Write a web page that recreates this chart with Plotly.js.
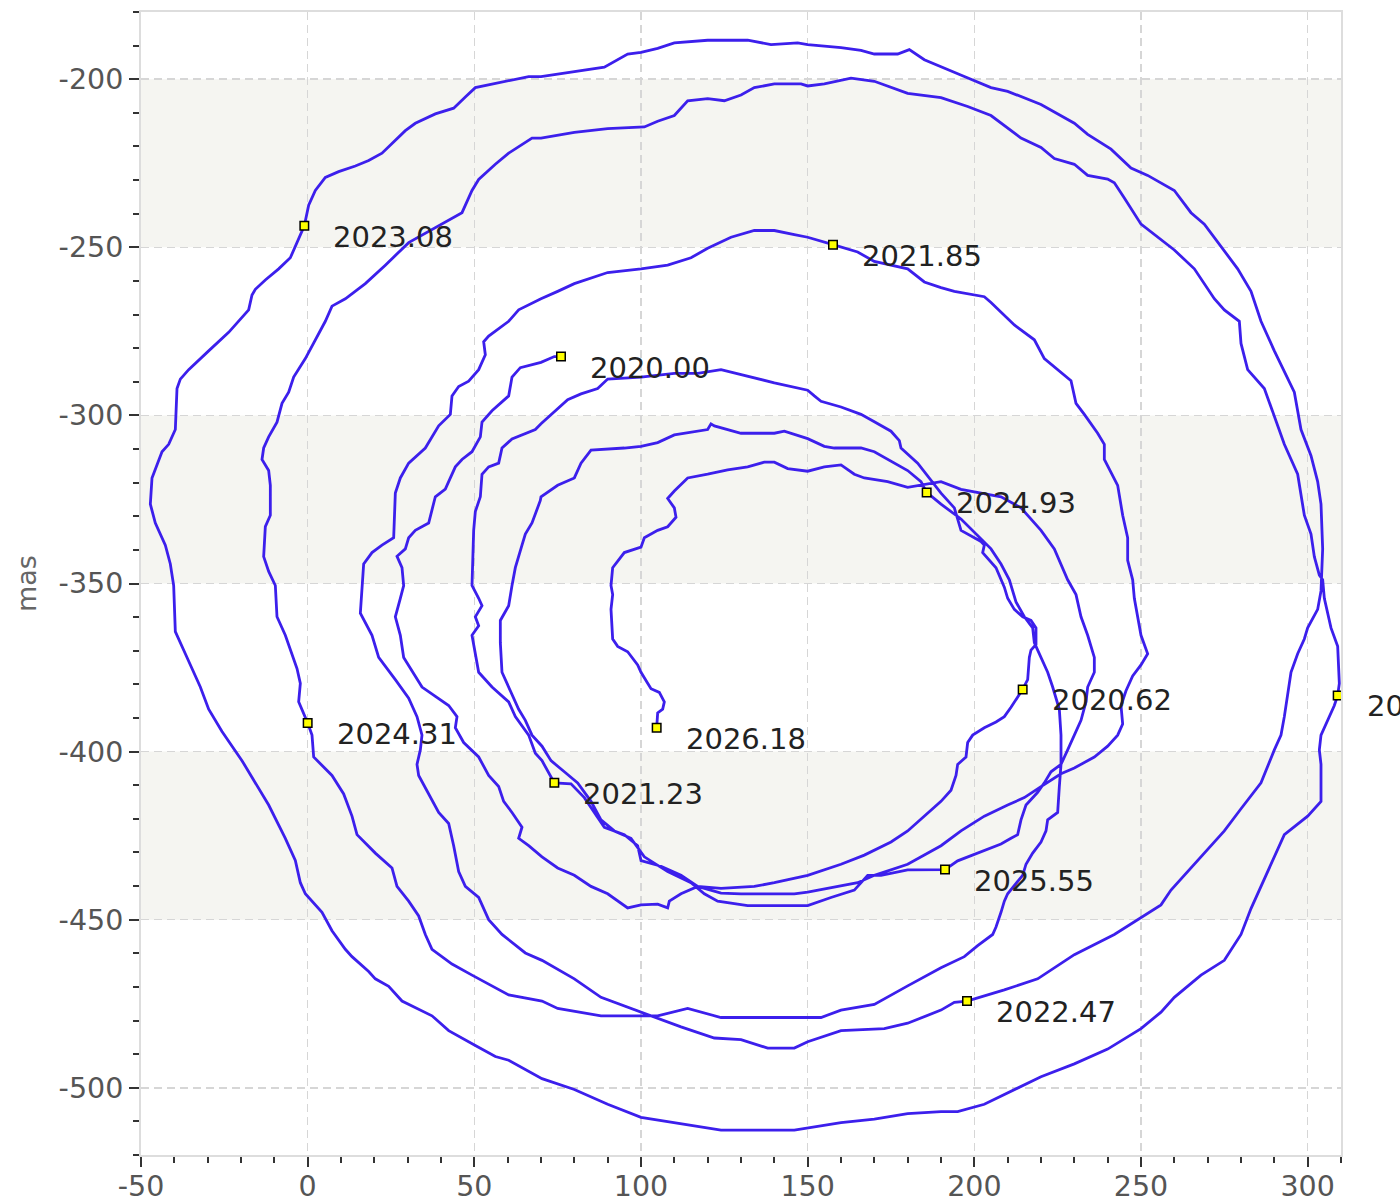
<!DOCTYPE html>
<html>
<head>
<meta charset="utf-8">
<script src="https://cdn.plot.ly/plotly-3.0.1.min.js"></script>
<style>
  html, body { margin: 0; padding: 0; background: #ffffff; }
  #chart { width: 1400px; height: 1204px; }
</style>
</head>
<body>
<div id="chart"></div>
<script>
// ---- Data (x, y in mas) ----
const loop1 = [[76.0,-282.5],[74.0,-282.5],[70.0,-284.2],[63.8,-285.8],[61.3,-288.6],[60.3,-294.2],[55.3,-298.6],[52.3,-302.0],[51.8,-306.4],[49.3,-310.8],[46.3,-313.1],[44.3,-315.3],[42.3,-319.7],[41.3,-321.9],[38.3,-324.2],[37.3,-328.6],[36.3,-332.0],[32.3,-334.2],[30.3,-336.4],[29.3,-339.7],[26.8,-341.9],[28.3,-345.3],[28.8,-350.6],[27.8,-354.4],[26.3,-359.9],[27.8,-365.4],[28.8,-372.0],[34.3,-380.8],[39.3,-384.1],[42.3,-386.3],[44.8,-389.6],[44.3,-392.9],[46.8,-397.3],[51.3,-401.6],[54.3,-407.1],[57.3,-410.4],[58.8,-414.8],[61.3,-418.1],[64.3,-422.5],[63.3,-425.8],[66.3,-428.0],[70.3,-431.3],[75,-434.6],[80,-436.8],[85,-440.1],[90,-442.3],[96,-446.5],[100,-445.6],[105,-445.4],[108,-446.5],[108.5,-444.5],[112,-442.3],[117,-440.1],[124,-440.7],[134,-440.1],[140,-439.0],[150,-436.8],[160,-433.5],[167,-430.8],[175,-426.9],[180,-423.6],[185,-419.2],[190,-414.8],[193,-411.5],[194.5,-407.1],[195,-403.8],[197.5,-401.6],[198,-397.3],[199.5,-395.1],[203,-392.9],[206.5,-391.2],[209,-389.6],[211,-386.8],[214.5,-381.5],[216,-378.6],[216.5,-372.0],[217,-369.8],[218.5,-368.1],[218.5,-363.2],[217,-361.0],[214.5,-359.9],[212,-357.7],[210,-354.4],[209,-351.1],[208,-348.9],[206.5,-345.3],[202.5,-340.8],[203,-338.6],[202,-337.5],[196,-334.2],[194,-327.5],[190,-323.1],[183,-314.2],[178,-309.7],[177.5,-307.5],[175,-304.7],[170,-301.9],[166,-299.7],[160,-297.5],[154,-295.8],[152,-294.2],[150,-292.5],[140,-290.3],[134,-288.8]];

const loop2 = [[127,-287.0],[124,-286.4],[117,-287.5],[110,-287.5],[100,-288.6],[90,-289.2],[87,-292.0],[82,-293.6],[78,-295.3],[73,-299.7],[70,-302.5],[68.3,-304.2],[61.3,-307.0],[58.3,-309.7],[57.3,-314.2],[54.3,-315.3],[52.3,-317.5],[51.8,-324.2],[50.3,-328.6],[49.8,-334.2],[49.3,-350.6],[51.3,-354.4],[52.3,-356.6],[50.3,-359.9],[51.3,-362.6],[49.3,-365.4],[51.3,-376.4],[55.3,-380.8],[60.3,-385.2],[62.3,-389.6],[66.3,-395.1],[68.3,-400.5],[70.3,-402.7],[74,-409.3],[79,-409.6],[83,-413.7],[86,-418.1],[89,-422.5],[95,-424.7],[99,-428.0],[100,-432.4],[106,-434.1],[112,-436.8],[117,-440.1],[124,-442.1],[130,-442.3],[146,-442.3],[150,-441.8],[165,-439.0],[170,-436.8],[180,-433.5],[190,-428.0],[196,-423.6],[203,-419.2],[210,-415.9],[215,-413.7],[220,-410.4],[226,-406.6],[230,-404.9],[236,-401.6],[240,-398.4],[243,-395.1],[244.5,-391.8],[244,-386.3],[245.5,-381.9],[247.5,-377.5],[250,-374.2],[252,-370.9],[250,-365.4],[248,-354.4],[247.5,-348.9],[246,-343.1],[246,-336.4],[244.5,-329.7],[243,-320.8],[239,-313.1],[239,-308.6],[237,-305.3],[233,-299.7],[230.5,-296.4],[229,-289.7],[221,-283.1],[218,-277.5],[212,-273.1],[205,-266.4],[203,-264.7],[194,-263.1],[190,-262.0],[185,-260.3],[180,-256.4],[170,-254.2],[165,-251.4],[157.6,-249.2],[150,-247.0],[146,-246.2],[140,-245.0],[134,-245.0]];

const loop3 = [[127,-247.0],[120,-250.3],[115,-253.1],[108,-255.3],[100,-256.4],[90,-257.5],[80,-260.8],[75,-263.1],[70,-265.3],[63.3,-268.6],[60.3,-272.0],[54.3,-276.4],[52.8,-278.1],[53.3,-282.0],[51.3,-286.4],[48.3,-289.8],[45.3,-291.4],[43.3,-294.2],[42.8,-299.7],[39.3,-303.1],[36.8,-307.5],[35.3,-309.7],[30.3,-314.2],[27.8,-318.6],[26.3,-323.1],[25.8,-336.4],[22.3,-338.6],[19.3,-340.8],[16.8,-344.2],[16.3,-350.6],[15.8,-358.8],[19.3,-365.4],[21.3,-372.0],[26.3,-378.6],[30.3,-384.1],[32.8,-389.6],[34.3,-395.1],[33.8,-399.5],[32.8,-403.8],[33.3,-407.1],[36.3,-412.6],[39.3,-418.1],[42.3,-421.4],[43.8,-428.0],[45.3,-435.7],[47.3,-440.1],[51.3,-443.4],[54.3,-450.0],[58.3,-454.4],[65.3,-459.9],[70.3,-462.1],[80,-467.6],[88,-473.1],[100,-477.5],[112,-481.9],[122,-485.2],[130,-485.7],[138,-488.2],[146,-488.2],[150,-486.3],[160,-483.0],[173,-482.4],[180,-480.8],[190,-476.9],[194,-474.6],[197.8,-474.2],[209,-470.9],[219,-467.6],[230,-460.4],[242,-454.4],[250,-449.5],[256,-445.6],[259,-441.2],[265,-434.6],[270,-429.1],[275,-423.6],[280,-417.0],[286,-409.3],[290,-399.5],[292,-395.1],[293,-389.6],[295,-376.4],[297,-370.9],[299,-366.5],[300,-363.2],[303,-357.7],[304,-352.2],[304.5,-339.7],[304,-326.4],[303,-319.7],[301,-312.0],[298,-304.2],[296,-293.1],[290,-280.8],[286,-272.0],[283,-263.1],[279,-256.4],[273,-248.6],[269,-243.1],[265,-239.7],[260,-233.1],[252,-228.6],[247,-226.4],[241,-220.8],[234,-216.4],[230,-213.1],[220,-207.5],[210,-203.6],[205,-202.5],[197,-199.2],[190,-196.2],[185,-194.2],[180.5,-191.2],[177,-192.5],[170,-192.5],[166,-191.4],[160,-190.6],[150,-189.7],[147,-189.2],[139,-189.7],[132,-188.4]];

const loop4 = [[120,-188.4],[110,-189.2],[105,-190.8],[100,-192.0],[96,-192.5],[89,-196.4],[85,-197.0],[70,-199.2],[66.3,-199.2],[50.3,-202.5],[47.3,-205.3],[43.8,-208.6],[38.3,-210.3],[32.3,-213.1],[29.3,-215.3],[22.3,-222.0],[18.3,-224.2],[14.3,-225.8],[9.3,-227.5],[5.3,-229.2],[2.3,-233.1],[0.3,-237.5],[-1.0,-243.6],[-2.7,-247.5],[-5.2,-253.1],[-8.7,-256.4],[-12.7,-259.7],[-15.7,-262.5],[-16.7,-264.2],[-17.7,-268.6],[-23.7,-275.3],[-29.7,-280.8],[-35.7,-286.4],[-38.2,-289.2],[-39.2,-292.0],[-39.7,-304.2],[-41.7,-308.6],[-43.7,-310.8],[-46.7,-318.6],[-47.2,-326.4],[-45.7,-332.0],[-42.7,-338.6],[-41.2,-344.2],[-40.2,-350.6],[-39.7,-364.3],[-36.7,-370.9],[-32.2,-380.8],[-29.7,-387.4],[-25.7,-394.0],[-19.7,-402.7],[-13.7,-412.6],[-11.7,-415.9],[-6.7,-425.8],[-3.7,-432.4],[-2.2,-439.0],[-0.7,-442.3],[4.3,-447.8],[7.3,-453.3],[11.3,-458.8],[13.3,-461.0],[18.3,-465.4],[20.3,-467.6],[24.3,-469.8],[28.3,-474.2],[37.3,-478.6],[42.3,-483.0],[50.3,-487.4],[56.3,-490.7],[60.3,-491.8],[70.3,-497.3],[80,-500.5],[90,-504.9],[100,-508.8],[110,-510.4],[124,-512.6],[146,-512.6],[160,-510.4],[170,-509.3],[180,-507.7],[190,-507.1],[195,-507.1],[203,-504.9],[210,-501.6],[220,-496.7],[230,-492.9],[240,-488.5],[250,-482.4],[256,-477.5],[260,-473.1],[268,-466.5],[275,-462.1],[280,-454.4],[283,-446.7],[287,-437.9],[290,-431.3],[293,-424.7],[300,-419.2],[304,-414.8],[304,-403.8],[303.5,-399.5],[304,-395.1],[306,-390.7],[308,-386.3],[309,-383.3],[309.5,-379.7],[309,-368.7],[307,-363.2],[305,-354.4],[304.5,-348.9],[303.5,-347.5],[302,-342.0],[301,-335.3],[299,-329.7],[297,-317.5],[293,-308.6],[289,-297.5],[287,-292.0],[282,-286.4],[280,-278.6],[279.5,-272.0],[275,-268.6],[272,-265.3],[269,-260.8],[266,-256.4],[260,-250.8],[250,-243.1],[245,-235.3],[242,-230.8],[240,-229.7],[234,-228.6],[230,-225.3],[224,-223.6],[220,-220.3],[214,-217.5],[205,-210.8],[198,-208.1],[190,-205.5],[180,-204.2],[170,-200.6],[163,-199.7],[155,-201.4],[150,-202.0],[148,-201.4],[140,-201.4],[134,-202.5],[130,-204.7]];

const loop5 = [[125,-206.4],[120,-205.8],[114,-206.4],[110,-210.8],[105,-212.5],[101,-214.2],[90,-214.7],[80,-215.8],[70,-217.5],[67.3,-217.5],[60.3,-222.0],[56.3,-225.3],[51.3,-229.8],[49.3,-233.1],[46.3,-239.7],[40.3,-243.1],[30.3,-248.6],[23.3,-255.3],[17.3,-260.8],[11.3,-265.3],[7.3,-267.5],[5.3,-272.0],[2.3,-277.5],[-0.7,-283.1],[-4.2,-288.6],[-5.7,-293.1],[-7.7,-296.4],[-9.2,-302.0],[-11.7,-306.4],[-13.2,-309.7],[-13.7,-313.1],[-11.7,-316.4],[-11.2,-320.8],[-11.2,-329.7],[-12.7,-333.1],[-13.2,-342.0],[-11.7,-346.4],[-9.7,-350.6],[-9.2,-359.9],[-6.7,-365.4],[-3.2,-375.3],[-2.2,-379.7],[-2.7,-385.2],[0.0,-391.5],[1.3,-395.1],[1.8,-401.6],[7.3,-407.1],[10.8,-412.6],[13.3,-419.2],[14.8,-424.7],[20.3,-430.2],[25.3,-434.6],[26.8,-440.1],[30.3,-444.5],[33.3,-448.9],[35.3,-454.4],[37.3,-458.8],[43.3,-463.2],[49.3,-466.5],[55.3,-469.8],[60.3,-472.4],[70.3,-474.2],[75,-476.4],[88,-478.6],[99,-478.6],[105,-478.6],[114,-476.4],[124,-479.1],[132,-479.1],[146,-479.1],[154,-479.1],[160,-476.9],[170,-475.2],[180,-469.7],[190,-464.3],[197,-461.0],[201,-457.7],[205.5,-454.4],[206.5,-452.2],[208,-447.8],[209,-444.5],[210,-442.3],[214.5,-436.8],[215.5,-433.5],[217.5,-430.2],[220,-426.9],[221.5,-423.6],[222,-420.3],[225,-418.1],[225.5,-410.4],[226,-403.8],[226,-395.1],[225.5,-387.4],[223.5,-380.8],[222,-376.4],[219,-369.8],[218,-367.6],[217.5,-363.2],[215,-359.9],[212.5,-355.5],[210.5,-348.9],[208,-344.2],[205,-339.7],[196,-330.8],[193,-328.6],[190,-326.4],[185.7,-322.9],[184,-319.7],[180,-316.4],[170,-310.8],[166,-309.7],[158,-309.7],[155,-309.2],[150,-306.9],[143,-304.7],[140,-305.3],[130,-305.3]];

const loop6 = [[122,-303.1],[121,-302.5],[120,-304.2],[110,-305.8],[105,-308.1],[100,-309.2],[95,-309.7],[85,-310.3],[82,-314.2],[80,-318.6],[75,-320.8],[70,-324.2],[69.8,-325.3],[67.3,-332.0],[65.3,-335.3],[64.3,-338.6],[62.3,-345.3],[61.3,-350.6],[60.3,-356.6],[57.8,-361.0],[57.8,-367.6],[58.3,-376.4],[61.3,-383.0],[63.3,-387.4],[65.3,-390.7],[67.3,-395.1],[70.3,-398.4],[73,-402.7],[77,-406.0],[81,-409.3],[85,-414.8],[88,-420.3],[92,-423.6],[97,-425.8],[101,-431.3],[108,-435.7],[115,-439.0],[119,-442.3],[123,-444.5],[132,-445.8],[140,-445.8],[150,-445.8],[157,-443.4],[164,-441.2],[168,-436.8],[172,-436.8],[180,-435.2],[191.2,-435.1],[195,-432.5],[201,-430.2],[208,-427.5],[211,-425.8],[213,-424.7],[214,-420.3],[215.5,-415.9],[219,-412.1],[221,-409.3],[223,-406.0],[226,-403.8],[228,-399.5],[230,-395.1],[232,-390.7],[233.5,-385.2],[234,-380.8],[236,-376.4],[236,-372.0],[234,-365.4],[232,-359.9],[230.5,-353.3],[228,-348.9],[224,-339.7],[220,-334.2],[214,-327.5],[208,-324.2],[196,-322.0],[190,-319.7],[180,-321.4],[174,-319.7],[167,-318.6],[164,-317.5],[160,-314.7],[155,-315.3],[150,-316.6],[144,-315.8],[140,-313.9],[137,-313.9],[132,-315.3]];

const tail7 = [[126,-316.2],[120,-317.5],[114,-318.6],[110,-322.5],[108,-324.7],[110,-327.5],[110.5,-330.3],[108,-333.1],[105,-334.2],[101,-336.4],[100,-339.2],[95,-340.8],[91.5,-345.3],[91,-350.6],[91.5,-353.3],[91,-357.7],[91.5,-366.5],[93,-368.7],[96,-370.3],[99,-374.2],[100,-376.4],[102,-379.7],[103,-381.3],[105.5,-382.4],[107,-385.2],[106.5,-387.4],[105,-388.5],[104.7,-392.9]];

const markerDates = ['2020.00','2020.62','2021.23','2021.85','2022.47','2023.08','2023.70','2024.31','2024.93','2025.55','2026.18'];
const markerX = [76.0, 214.5, 74.0, 157.6, 197.8, -1.0, 309.0, 0.0, 185.7, 191.2, 104.7];
const markerY = [-282.5, -381.5, -409.3, -249.2, -474.2, -243.6, -383.3, -391.5, -322.9, -435.1, -392.9];

const xTickVals = [-50, 0, 50, 100, 150, 200, 250, 300];
const xTickText = ['-50', '0', '50', '100', '150', '200', '250', '300'];
const yTickVals = [-500, -450, -400, -350, -300, -250, -200];
const yTickText = ['-500', '-450', '-400', '-350', '-300', '-250', '-200'];
const bands = [[-250, -200], [-350, -300], [-450, -400]];

// ---- Build ----
const path = [].concat(loop1, loop2, loop3, loop4, loop5, loop6, tail7);
const pathX = path.map(p => p[0]);
const pathY = path.map(p => p[1]);

const FONT = 'DejaVu Sans, Verdana, sans-serif';

const traces = [
  {
    type: 'scatter', mode: 'lines', x: pathX, y: pathY,
    line: { color: '#3c1fec', width: 2.8 }, hoverinfo: 'skip', showlegend: false
  },
  {
    type: 'scatter', mode: 'markers', x: markerX, y: markerY,
    marker: { symbol: 'square', size: 8.5, color: '#ffff00', line: { color: '#000000', width: 1.5 } },
    hoverinfo: 'skip', showlegend: false
  }
];

const annotations = markerDates.map((d, i) => ({
  x: markerX[i], y: markerY[i], xref: 'x', yref: 'y',
  text: d, showarrow: false, xanchor: 'left', yanchor: 'middle',
  xshift: 27, yshift: -11,
  font: { family: FONT, size: 29, color: '#222222' }
}));

const shapes = bands.map(b => ({
  type: 'rect', xref: 'paper', yref: 'y', x0: 0, x1: 1, y0: b[0], y1: b[1],
  fillcolor: '#f5f5f1', line: { width: 0 }, layer: 'below'
}));

const axisCommon = {
  showgrid: true, gridcolor: '#d6d6d6', gridwidth: 1.5, griddash: '8px,5px',
  zeroline: false, showline: true, linecolor: '#dddddd', linewidth: 2, mirror: true,
  ticks: 'outside', ticklen: 10, tickwidth: 2, tickcolor: '#333333',
  tickmode: 'array',
  tickfont: { family: FONT, size: 28.5, color: '#555555' },
  minor: { tickmode: 'linear', tick0: 0, dtick: 10, ticks: 'outside', ticklen: 6, tickwidth: 2, tickcolor: '#333333', showgrid: false }
};

const layout = {
  width: 1400, height: 1204,
  margin: { l: 141, r: 59, t: 12, b: 49, pad: 0 },
  paper_bgcolor: '#ffffff', plot_bgcolor: '#ffffff',
  showlegend: false,
  xaxis: Object.assign({}, axisCommon, {
    range: [-50, 310], tickvals: xTickVals, ticktext: xTickText,
    ticklabelstandoff: -5
  }),
  yaxis: Object.assign({}, axisCommon, {
    range: [-520, -180], tickvals: yTickVals, ticktext: yTickText,
    title: { text: 'mas', font: { family: FONT, size: 27, color: '#666666' }, standoff: 14 }
  }),
  shapes: shapes,
  annotations: annotations
};

Plotly.newPlot('chart', traces, layout, { displayModeBar: false, staticPlot: true });
</script>
</body>
</html>
